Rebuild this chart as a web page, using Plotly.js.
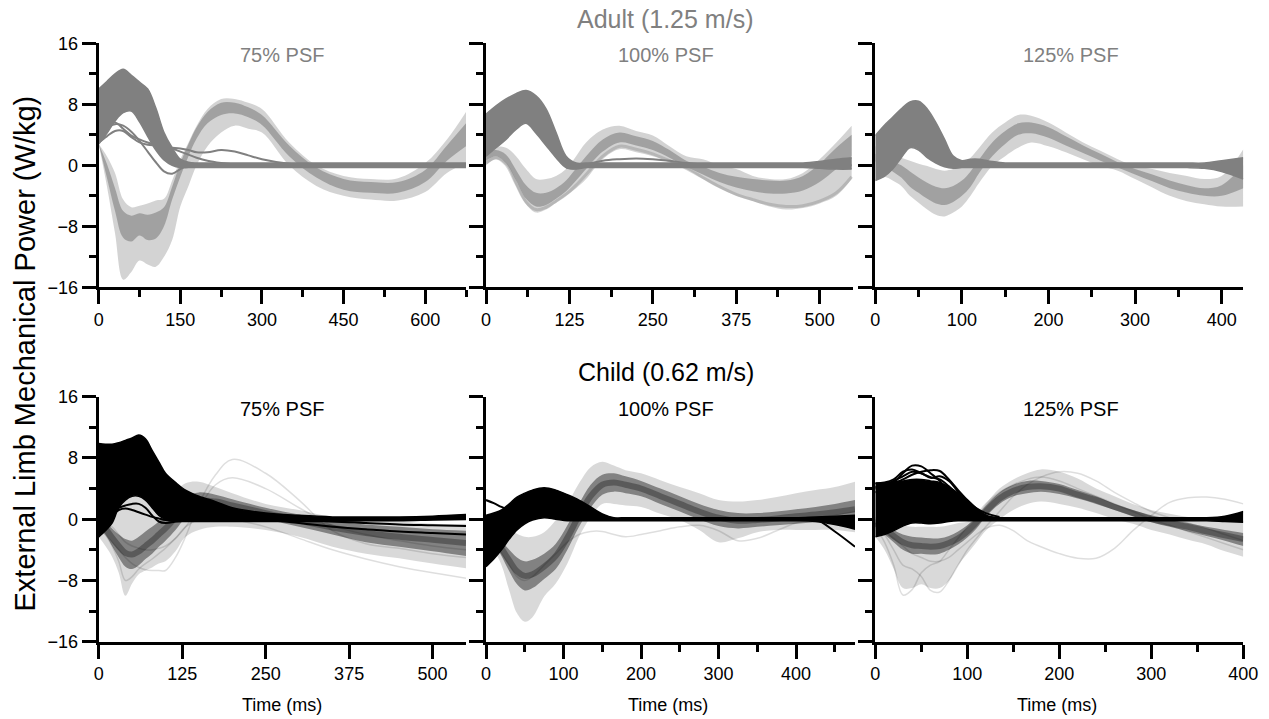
<!DOCTYPE html>
<html><head><meta charset="utf-8">
<script src="https://cdn.plot.ly/plotly-3.0.1.min.js"></script>
<style>html,body{margin:0;padding:0;background:#fff}#chart{width:1269px;height:719px}</style>
</head><body><div id="chart"></div>
<script>
// ---------------- DATA ----------------
// Adult 75% PSF
const T_A1 = [0,15,30,45,60,75,90,105,120,135,150,165,180,200,225,250,275,300,350,400,450,500,550,600,640,675];
const a75_outerHi = [2.8,1.2,-1,-4.5,-5.5,-5.3,-5,-4.6,-4.4,-2,0.8,3,5.2,7.4,8.7,8.7,8.2,7.4,3,0,-1.4,-1.8,-1.7,0.3,3.4,7];
const a75_outerLo = [2.8,-2.7,-8.9,-15,-14,-12.5,-13,-13.3,-12,-9.8,-5.4,-2.7,0,2.5,4.3,5.2,4.8,4.3,0,-2.7,-4,-4.5,-4.6,-3.5,-1,0.3];
const a75_innerHi = [2.8,0.2,-3,-6,-6.6,-6.3,-6.5,-6.2,-5.5,-2.8,0.3,2.8,5,7,8.2,8.2,7.6,6.6,2.6,-0.3,-1.8,-2.2,-2.2,-0.6,2.6,5.5];
const a75_innerLo = [2.8,-1.6,-6,-9.5,-10,-9.2,-9.8,-9.6,-8,-4.5,-1.5,1.2,3.5,5.5,6.6,6.8,6.3,5.3,1.2,-1.6,-3.2,-3.6,-3.6,-2.2,0.6,2.5];
const a75_darkHi = [10,11,12,12.6,11.8,10.9,10,7.5,4.3,2.3,0.8,0.4,0.3,0.3,0.3,0.3,0.3,0.3,0.3,0.3,0.3,0.3,0.3,0.3,0.3,0.3];
const a75_darkLo = [2.8,4.2,5.8,6.9,7.1,5.7,3.8,2,0.7,0,-0.3,-0.3,-0.3,-0.3,-0.3,-0.3,-0.3,-0.3,-0.3,-0.3,-0.3,-0.3,-0.3,-0.3,-0.3,-0.3];
const a75_odd1 = [4.3,5,5.4,5.2,4.4,3.2,1.8,0.4,-0.8,-1.1,-0.5,0,0,0,0,0,0,0,0,0,0,0,0,0,0,0];
const a75_odd2 = [4.5,5.2,5.6,4.8,3.9,3.4,3,2.7,2.4,2.3,2.2,2,1.7,1.7,2,1.8,1.3,0.8,0.2,0,0,0,0,0,0,0];
const a75_odd3 = [3,3.8,4.5,4.5,3.7,3,2.7,2.6,2.5,2.2,1.8,1.4,1,0.6,0.3,0.1,0,0,0,0,0,0,0,0,0,0];

// Adult 100% PSF
const T_A2 = [0,15,30,45,60,75,90,105,120,135,150,175,200,225,250,275,300,325,350,375,400,425,450,475,500,525,548];
const a100_outerHi = [2.5,2.5,2.3,1.2,-0.5,-1.8,-1.8,-1.4,-0.5,1.2,3,4.7,5.2,4.5,3.9,2.5,1.2,0.8,0,-0.5,-1.4,-1.8,-1.8,-1,0.8,3,5.2];
const a100_outerLo = [0,0.8,0,-2.7,-5.1,-6.2,-5.8,-4.9,-4,-3,-1.8,0.8,2.1,1.7,1.2,0.4,-0.5,-1.8,-3,-4,-4.7,-5.4,-5.8,-5.6,-5,-4,-1.8];
const a100_innerHi = [1.8,2,1.4,-0.6,-2.6,-3.6,-3.6,-3,-2,-0.4,1.2,3.4,4.3,3.8,3.2,2,0.6,-0.2,-1,-1.5,-1.8,-2,-2,-1.4,0.2,2.3,4];
const a100_innerLo = [0.6,1.2,0.3,-2,-4.4,-5.4,-5.2,-4.4,-3.4,-2,-0.5,1.8,3,2.6,2,1,-0.2,-1.2,-2.2,-2.9,-3.4,-3.7,-3.7,-3.3,-2.2,-0.5,1.2];
const a100_low = [0.3,1,0.1,-2.4,-4.8,-5.8,-5.5,-4.7,-3.8,-2.6,-1.2,1.2,2.5,2.1,1.5,0.6,-0.4,-1.6,-2.8,-3.8,-4.5,-5.1,-5.4,-5.3,-4.7,-3.6,-1.5];
const a100_darkHi = [6.7,7.8,8.7,9.4,9.8,9.1,7.4,4.3,1.2,0.3,0.3,0.3,0.3,0.3,0.3,0.3,0.3,0.3,0.3,0.3,0.3,0.3,0.3,0.3,0.5,0.8,1];
const a100_darkLo = [1.2,2.3,3.4,4.7,5.5,4.2,2.6,1,-0.3,-0.5,-0.3,-0.3,-0.3,-0.3,-0.3,-0.3,-0.3,-0.3,-0.3,-0.3,-0.3,-0.3,-0.3,-0.3,-0.4,-0.5,-0.5];
const a100_hump = [null,null,null,null,null,null,null,null,-0.3,-0.4,0.1,0.6,0.8,0.9,0.8,0.6,0.3,0.1,0,0,0,0,0,0,0,0,0];

// Adult 125% PSF
const T_A3 = [0,10,20,30,40,50,60,70,80,90,100,110,120,135,150,165,180,200,220,240,260,280,300,320,340,360,380,400,425];
const a125_outerHi = [2.5,2,1.5,1,0.6,0.2,-0.1,-0.5,-0.7,-0.5,0.1,1,2.3,4.3,5.6,6.6,6.5,5.6,4.3,3,1.9,0.8,-0.1,-0.5,-1,-1.4,-1.8,-1.4,2.1];
const a125_outerLo = [-2,-1.5,-2,-2.7,-4,-4.9,-5.8,-6.5,-6.7,-6.2,-5.4,-4,-2.3,-0.1,1.2,2.3,3,2.5,1.7,0.8,-0.1,-0.7,-1.8,-2.9,-4,-4.7,-5.1,-5.4,-5.4];
const a125_innerHi = [1.5,1,0.5,0,-0.8,-1.6,-2.3,-2.8,-3,-2.7,-2,-0.8,0.8,3,4.5,5.5,5.6,5,3.8,2.6,1.5,0.4,-0.5,-1.2,-2,-2.6,-3,-2.6,0];
const a125_innerLo = [0.5,0,-0.8,-1.6,-2.8,-3.6,-4.4,-5,-5.2,-4.8,-4,-2.8,-1,1.2,2.8,4,4.2,3.6,2.6,1.6,0.6,-0.3,-1.2,-2.1,-3,-3.6,-4,-4,-3];
const a125_darkHi = [3.9,5.2,6.3,7.4,8.3,8.4,7.4,5.6,3.4,1.2,0.6,0.8,0.8,0.5,0.3,0.3,0.3,0.3,0.3,0.3,0.3,0.3,0.3,0.3,0.3,0.3,0.3,0.6,1];
const a125_darkLo = [-2,-1.5,-0.5,1,2.3,2,1,0.3,-0.2,-0.4,-0.3,-0.3,-0.3,-0.3,-0.3,-0.3,-0.3,-0.3,-0.3,-0.3,-0.3,-0.3,-0.3,-0.3,-0.3,-0.3,-0.4,-0.8,-1.8];

// Child 75% PSF
const T_C1 = [0,10,20,30,40,50,60,70,80,90,100,115,130,150,175,200,250,300,350,400,450,500,550];
const c75_outerHi = [1.2,1,1.5,2,2.5,3,3,2.8,2.5,2.2,2.5,3.6,4.7,4.9,4.2,3.4,2,1.2,0.3,-0.1,-0.3,-0.6,-0.6];
const c75_outerLo = [-2.3,-3.5,-4.9,-7,-10,-8.4,-7.2,-6.7,-6.3,-5.8,-5.5,-4.2,-2.3,-1.4,-1,-1,-1.4,-2.3,-3.6,-4.5,-5.1,-5.8,-6.4];
const c75_innerHi = [0.5,-0.3,-1.2,-2,-2.6,-2.8,-2.3,-1.6,-1,-0.3,0.5,1.8,3,3.5,3.2,2.6,1.5,0.6,-0.2,-0.7,-1,-1.3,-1.5];
const c75_innerLo = [-1,-2,-3.5,-5,-6.2,-6.5,-6,-5.2,-4.5,-3.6,-2.8,-1.4,0.2,1.2,1.4,1,0,-1,-2,-3,-3.6,-4.2,-4.8];
const c75_core = [-0.3,-1.2,-2.4,-3.5,-4.4,-4.6,-4.2,-3.5,-2.8,-2,-1.2,0.2,1.6,2.4,2.3,1.8,0.8,-0.2,-1.1,-1.8,-2.3,-2.7,-3.1];
const c75_odd1 = [-1,-2,-3,-4,-5,-5.8,-6.3,-6.6,-6.7,-6.7,-6.7,-5,-2.3,2,5.8,7.8,6,2.5,-1.5,-3.2,-3.8,-4.5,-5];
const c75_odd2 = [0,-0.5,-1,-2,-3,-3.5,-3.8,-4,-4,-3.8,-3.5,-2.5,-1,1.5,4.5,5.4,4,1.5,-0.8,-2,-2.8,-3.5,-4];
const c75_odd3 = [-1,-2,-3.5,-5.5,-8,-7.5,-6.5,-5.8,-5.2,-4.5,-3.8,-2.5,-1,0,0.3,0,-1,-2.5,-4,-5.2,-6.2,-7,-7.7];
const c75_blackHi = [9.9,9.8,9.8,10,10.3,10.6,11,10.5,9,7.5,6,4.8,3.8,3,2.3,1.5,0.8,0.5,0.3,0.3,0.3,0.4,0.6];
const c75_blackLo = [-2.3,-1.5,-0.5,1.5,2.5,3,3,2.5,1.5,0.5,0,-0.3,-0.3,-0.3,-0.3,-0.3,-0.3,-0.3,-0.3,-0.2,-0.2,-0.1,0];
const c75_b1 = [5,6,7,8,8.5,9,9.5,9,8,6.5,5,3.8,3,2.3,1.6,1,0.3,0,-0.3,-0.5,-0.7,-0.8,-0.9];
const c75_b2 = [2,3,4,5,5.8,6.3,6.5,6,5,3.8,2.8,2.2,1.8,1.4,1,0.6,0,-0.5,-1,-1.3,-1.6,-1.8,-2];
const c75_b3 = [0,0.5,1,1.5,1.8,2,2,1.5,0.5,-0.3,-0.5,-0.3,0,0,0,0,0,0,0,0,0.1,0.2,0.4];
const c75_b4 = [-1.5,-0.5,0.5,1.2,1.4,1.2,0.9,0.6,0.3,0.1,-0.1,-0.2,-0.1,0,0,0,0,0,0,0,0,0,0];

// Child 100% PSF
const T_C2 = [0,10,20,30,40,50,60,75,90,105,120,135,150,165,180,200,225,250,275,300,325,350,375,400,425,450,476];
const c100_outerHi = [0,-0.5,-1,-1.4,-1.9,-2.3,-2.3,-1.7,-0.1,2,4.7,6.8,7.5,7,6.4,6,5.1,4.2,3.4,2.5,2.3,2.5,2.9,3.4,3.8,4.2,4.9];
const c100_outerLo = [-2.5,-4,-6,-9.3,-12.3,-13.4,-12.8,-10.1,-8.4,-5.8,-2.3,0.3,2,2,1.8,1.6,0.7,-0.1,-1.4,-3,-2.5,-1.7,-1.4,-1.4,-1.4,-1.4,-1.7];
const c100_innerHi = [-0.5,-1.5,-2.8,-4,-5,-5.5,-5.3,-4.5,-3.2,-0.8,2,4.5,5.8,6,5.6,5,4,3,2,1.2,0.8,0.8,1,1.3,1.6,2,2.5];
const c100_innerLo = [-2,-3,-4.8,-6.8,-8.5,-9.3,-9,-7.8,-6.5,-4,-1,1.5,3.2,3.6,3.4,3,2,1,0,-0.9,-1.2,-1,-0.8,-0.6,-0.4,-0.2,0];
const c100_core = [-1.2,-2.2,-3.8,-5.4,-6.8,-7.4,-7.2,-6.2,-4.8,-2.4,0.5,3,4.5,4.8,4.5,4,3,2,1,0.2,-0.2,-0.1,0.1,0.4,0.6,0.9,1.3];
const c100_odd1 = [-1.5,-3,-4.5,-6,-7.5,-8,-7.5,-6,-4.5,-3,-2,-1.6,-1.6,-2,-2.3,-2,-1.5,-1,-0.8,-1.5,-2.8,-2.5,-1.5,-0.5,0,0.5,1];
const c100_blackHi = [0.5,0.8,1.2,2,2.9,3.4,3.8,4.1,3.8,3.2,2.5,1.6,0.7,0.2,0.2,0.2,0.2,0.2,0.2,0.2,0.2,0.2,0.2,0.2,0.3,0.4,0.5];
const c100_blackLo = [-6.2,-5.2,-4,-2.6,-1.4,-0.6,-0.1,0.2,0,-0.2,-0.2,-0.2,-0.2,-0.2,-0.2,-0.2,-0.2,-0.2,-0.2,-0.2,-0.2,-0.2,-0.2,-0.2,-0.3,-0.7,-1.3];
const c100_bStart = [2.5,2.1,1.6,1.2,1,1.2,1.6,2.4,2.8,2.6,2,1.2,0.5,0.1,0,0,0,0,0,0,0,0,0,0,0,0,0];
const c100_bDrop = [null,null,null,null,null,null,null,null,null,null,null,null,null,null,null,null,null,null,null,null,null,null,null,0,0,-1.6,-3.6];

// Child 125% PSF
const T_C3 = [0,10,20,30,40,50,60,70,80,90,100,110,120,135,150,165,180,200,220,240,260,280,300,320,340,360,380,400];
const c125_outerHi = [0.3,0,-0.5,-0.8,-1,-1,-1,-1,-0.8,-0.5,-0.3,0.5,2,4,5.2,6,6.5,6.2,5.3,4,3,2,1.2,0.7,0.3,0.1,0,-0.1];
const c125_outerLo = [-2.3,-4,-6.5,-9,-9,-8.5,-9,-9,-8,-6,-4.5,-3,-1.5,0,1.2,2,2.3,2,1.5,0.8,0,-0.6,-1.4,-2,-2.7,-3.3,-4.2,-4.9];
const c125_innerHi = [0,-0.6,-1.4,-2,-2.3,-2.4,-2.5,-2.5,-2.2,-1.6,-0.8,0.3,1.8,3.5,4.5,5,5,4.6,3.8,3,2,1.2,0.5,0,-0.5,-1,-1.4,-1.8];
const c125_innerLo = [-1,-2,-3,-4,-4.5,-4.5,-4.6,-4.5,-4,-3.3,-2.4,-1.2,0.3,2,3,3.4,3.6,3.3,2.7,2,1.2,0.4,-0.4,-1,-1.6,-2.2,-2.8,-3.5];
const c125_core = [-0.5,-1.3,-2.2,-3,-3.4,-3.5,-3.6,-3.5,-3.1,-2.5,-1.6,-0.4,1,2.7,3.7,4.2,4.3,4,3.2,2.5,1.6,0.8,0,-0.5,-1,-1.6,-2.1,-2.6];
const c125_odd1 = [-1,-3,-6,-9.9,-9.2,-7,-6,-5.5,-4,-2.5,-1,0.5,2,3.5,4.5,5.2,5.5,5,4,3,2,1,0,-0.8,-1.6,-2.4,-3.2,-4];
const c125_odd2 = [-0.5,-2,-4,-6,-6.5,-7.5,-9.3,-9.5,-8,-6,-4,-2.5,-1,1,3,4.5,5.5,6.2,6,5,3.5,2.2,1,0.2,-0.5,-1.2,-2,-2.8];
const c125_odd3 = [-0.5,-1.5,-2.5,-3.5,-4.5,-5,-5.5,-5.5,-5,-4,-3,-2,-1.2,-0.8,-1.5,-2.8,-3.6,-4.5,-5.1,-5.1,-3.8,-1.5,0.5,2.2,2.8,2.9,2.6,2];
const c125_blackHi = [4.7,4.7,4.9,5,5.2,5.2,5,4.8,4.2,3.4,2.3,1.3,0.5,0.2,0.2,0.2,0.2,0.2,0.2,0.2,0.2,0.2,0.2,0.2,0.2,0.2,0.4,1];
const c125_blackLo = [-2.3,-2,-1.5,-0.9,-0.5,-0.5,-0.6,-0.5,-0.3,-0.2,-0.2,-0.2,-0.2,-0.2,-0.2,-0.2,-0.2,-0.2,-0.2,-0.2,-0.2,-0.2,-0.2,-0.2,-0.2,-0.2,-0.3,-0.4];
const c125_k1 = [4,4.3,4.8,6,7,6.9,6,5,3.5,2,1,0.4,0.1,0];
const c125_k2 = [3.5,4,4.6,5.2,5.8,6.2,6.4,6.3,5.2,3.8,2.5,1.4,0.5,0];
const c125_k3 = [4.2,4.5,5,5.6,6.2,6,5.4,5.6,5,3.6,2.2,1,0.3,0];
const c125_k4 = [4.7,4.8,5.2,6.2,6.5,6,5.5,5.2,4.3,3.2,2.2,1.4,0.8,0.3];

// tick settings per panel
const xRanges = [[0,675],[0,550],[0,425],[0,550],[0,476],[0,400]];
const xMajor  = [150,125,100,125,100,100];
const xMinor  = [75,62.5,50,null,50,50];
const subTitles = ['75% PSF','100% PSF','125% PSF','75% PSF','100% PSF','125% PSF'];
const rowTitles = ['Adult (1.25 m/s)','Child (0.62 m/s)'];
const yTitle = 'External Limb Mechanical Power (W/kg)';
const xTitle = 'Time (ms)';

// ---------------- BUILD ----------------
const traces = [];
const sfx = n => (n === 1 ? '' : String(n));
function band(p, t, lo, hi, color, lw) {
  const xa = 'x' + sfx(p), ya = 'y' + sfx(p);
  const ln = {width: lw || 0, shape: 'spline', smoothing: 1, color: color};
  traces.push({type:'scatter', mode:'lines', x:t, y:lo, xaxis:xa, yaxis:ya, line:ln, hoverinfo:'skip'});
  traces.push({type:'scatter', mode:'lines', x:t, y:hi, xaxis:xa, yaxis:ya, line:ln, fill:'tonexty', fillcolor:color, hoverinfo:'skip'});
}
function line(p, t, y, color, w) {
  traces.push({type:'scatter', mode:'lines', x:t.slice(0, y.length), y:y, xaxis:'x'+sfx(p), yaxis:'y'+sfx(p),
    line:{width:w, shape:'spline', smoothing:1, color:color}, connectgaps:false, hoverinfo:'skip'});
}
const GR = a => 'rgba(128,128,128,' + a + ')';
const BK = a => 'rgba(0,0,0,' + a + ')';
const DARK = '#808080';

// Panel 1
band(1, T_A1, a75_outerLo, a75_outerHi, GR(0.35));
band(1, T_A1, a75_innerLo, a75_innerHi, GR(0.6));
band(1, T_A1, a75_darkLo, a75_darkHi, DARK, 1.5);
line(1, T_A1, a75_odd1, DARK, 2);
line(1, T_A1, a75_odd2, DARK, 2);
line(1, T_A1, a75_odd3, DARK, 2);
// Panel 2
band(2, T_A2, a100_outerLo, a100_outerHi, GR(0.35));
band(2, T_A2, a100_innerLo, a100_innerHi, GR(0.6));
line(2, T_A2, a100_low, GR(0.35), 3);
band(2, T_A2, a100_darkLo, a100_darkHi, DARK, 1.5);
line(2, T_A2, a100_hump, DARK, 2);
// Panel 3
band(3, T_A3, a125_outerLo, a125_outerHi, GR(0.35));
band(3, T_A3, a125_innerLo, a125_innerHi, GR(0.6));
band(3, T_A3, a125_darkLo, a125_darkHi, DARK, 1.5);
// Panel 4
band(4, T_C1, c75_outerLo, c75_outerHi, BK(0.15));
band(4, T_C1, c75_innerLo, c75_innerHi, BK(0.4));
line(4, T_C1, c75_core, BK(0.3), 6);
line(4, T_C1, c75_odd1, BK(0.13), 1.5);
line(4, T_C1, c75_odd2, BK(0.13), 1.5);
line(4, T_C1, c75_odd3, BK(0.13), 1.5);
band(4, T_C1, c75_blackLo, c75_blackHi, '#000', 1.5);
line(4, T_C1, c75_b1, '#000', 2);
line(4, T_C1, c75_b2, '#000', 2);
line(4, T_C1, c75_b3, '#000', 2);
line(4, T_C1, c75_b4, '#000', 2);
// Panel 5
band(5, T_C2, c100_outerLo, c100_outerHi, BK(0.15));
band(5, T_C2, c100_innerLo, c100_innerHi, BK(0.4));
line(5, T_C2, c100_core, BK(0.3), 6);
line(5, T_C2, c100_odd1, BK(0.13), 1.5);
band(5, T_C2, c100_blackLo, c100_blackHi, '#000', 1.5);
line(5, T_C2, c100_bStart, '#000', 2);
line(5, T_C2, c100_bDrop, '#000', 2);
// Panel 6
band(6, T_C3, c125_outerLo, c125_outerHi, BK(0.15));
band(6, T_C3, c125_innerLo, c125_innerHi, BK(0.4));
line(6, T_C3, c125_core, BK(0.3), 6);
line(6, T_C3, c125_odd1, BK(0.13), 1.5);
line(6, T_C3, c125_odd2, BK(0.13), 1.5);
line(6, T_C3, c125_odd3, BK(0.13), 1.5);
band(6, T_C3, c125_blackLo, c125_blackHi, '#000', 1.5);
line(6, T_C3, c125_k1, '#000', 2);
line(6, T_C3, c125_k2, '#000', 2);
line(6, T_C3, c125_k3, '#000', 2);
line(6, T_C3, c125_k4, '#000', 2);

// ---------------- LAYOUT ----------------
const W = 1269, H = 719;
const colDom = [[98.7/W, 466/W],[486/W, 853/W],[875.3/W, 1243.3/W],[98.7/W, 466/W],[486/W, 855/W],[875.3/W, 1243.3/W]];
const rowDom = [[1-287.3/H, 1-43.3/H],[1-641.7/H, 1-396.7/H]];
const layout = {
  width: W, height: H, margin:{l:0,r:0,t:0,b:0,pad:0},
  paper_bgcolor:'#fff', plot_bgcolor:'rgba(0,0,0,0)', showlegend:false,
  font:{family:'"Liberation Sans", Arial, Helvetica, sans-serif', color:'#000', size:18},
  annotations: []
};
for (let i = 0; i < 6; i++) {
  const n = i + 1, s = sfx(n), row = i < 3 ? 0 : 1;
  const xa = {
    domain: colDom[i], range: xRanges[i], anchor: 'y' + s,
    showline:true, linewidth:3, linecolor:'#000', ticks:'outside', ticklen:14, tickwidth:3, tickcolor:'#000',
    tick0:0, dtick:xMajor[i], showgrid:false, zeroline:false, fixedrange:true,
    tickfont:{size:18, color:'#000'}
  };
  if (xMinor[i]) xa.minor = {tick0:0, dtick:xMinor[i], ticks:'outside', ticklen:7, tickwidth:3, tickcolor:'#000', showgrid:false};
  layout['xaxis' + s] = xa;
  layout['yaxis' + s] = {
    domain: rowDom[row], range:[-16,16], anchor:'x' + s,
    showline:true, linewidth:3, linecolor:'#000', ticks:'outside', ticklen:14, tickwidth:3, tickcolor:'#000',
    tick0:0, dtick:8, showgrid:false, zeroline:false, fixedrange:true,
    showticklabels: (i === 0 || i === 3), tickfont:{size:18, color:'#000'},
    minor:{tick0:0, dtick:4, ticks:'outside', ticklen:7, tickwidth:3, tickcolor:'#000', showgrid:false}
  };
}
function ann(text, px, py, size, color, angle) {
  layout.annotations.push({text:text, x:px/W, y:1-py/H, xref:'paper', yref:'paper', xanchor:'center', yanchor:'middle',
    showarrow:false, font:{size:size, color:color}, textangle:angle || 0});
}
ann(rowTitles[0], 665, 19, 25, '#808080');
ann(rowTitles[1], 666, 372, 25, '#000');
const subX = [281.5, 665.5, 1070.5];
for (let i = 0; i < 3; i++) {
  ann(subTitles[i], subX[i], 55, 20, '#808080');
  ann(subTitles[i+3], subX[i], 409, 20, '#000');
}
ann(yTitle, 24, 353.5, 29, '#000', -90);
[282, 668, 1057].forEach(x => ann(xTitle, x, 705, 18, '#000'));

Plotly.newPlot('chart', traces, layout, {staticPlot:true, displayModeBar:false});
</script></body></html>
